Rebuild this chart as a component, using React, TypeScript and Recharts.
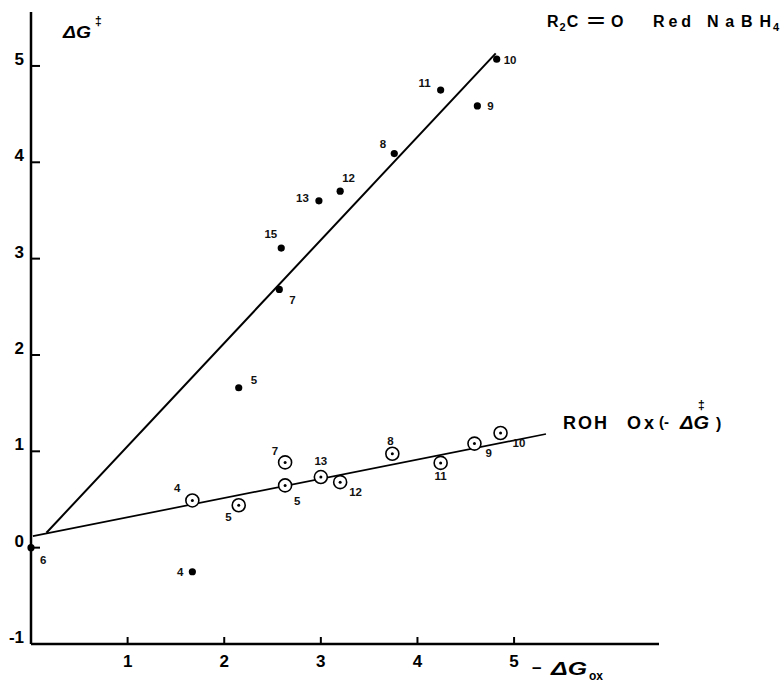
import {
  ComposedChart,
  Scatter,
  XAxis,
  YAxis,
} from "recharts";

// NaBH4 reduction of ketones (filled dots)
const redIds = ["6", "4", "5", "7", "15", "13", "12", "8", "11", "9", "10"];
const redX = [0, 1.67, 2.15, 2.57, 2.59, 2.98, 3.2, 3.76, 4.24, 4.62, 4.82];
const redY = [0, -0.25, 1.66, 2.68, 3.11, 3.6, 3.7, 4.09, 4.75, 4.585, 5.07];

// alcohol oxidation (open circles)
const oxIds = ["4", "5", "7", "5", "13", "12", "8", "11", "9", "10"];
const oxX = [1.67, 2.15, 2.63, 2.63, 3.0, 3.2, 3.74, 4.24, 4.59, 4.86];
const oxY = [0.49, 0.44, 0.885, 0.646, 0.733, 0.68, 0.975, 0.88, 1.08, 1.19];

// fitted lines, end points
const redFitX = [0.16, 4.81];
const redFitY = [0.155, 5.13];
const oxFitX = [0.02, 5.33];
const oxFitY = [0.12, 1.18];

const xTicks = [1, 2, 3, 4, 5];
const yTicks = [-1, 0, 1, 2, 3, 4, 5];

// label placement next to each point: [dx, dy, anchor]
const redLabelPos: [number, number, string][] = [
  [9, 16, "start"],
  [-9, 4, "end"],
  [12, -4, "start"],
  [10, 15, "start"],
  [-4, -10, "end"],
  [-10, 1, "end"],
  [2, -9, "start"],
  [-8, -6, "end"],
  [-10, -3, "end"],
  [10, 4, "start"],
  [7, 5, "start"],
];
const oxLabelPos: [number, number, string][] = [
  [-12, -8, "end"],
  [-7, 16, "end"],
  [-7, -7, "end"],
  [9, 20, "start"],
  [0, -12, "middle"],
  [9, 14, "start"],
  [-2, -9, "middle"],
  [0, 17, "middle"],
  [11, 13, "start"],
  [12, 14, "start"],
];

const FONT = "'Liberation Sans', Arial, sans-serif";

const redData = redX.map((x, i) => ({ x, y: redY[i], id: redIds[i], i }));
const oxData = oxX.map((x, i) => ({ x, y: oxY[i], id: oxIds[i], i }));
const redFit = redFitX.map((x, i) => ({ x, y: redFitY[i] }));
const oxFit = oxFitX.map((x, i) => ({ x, y: oxFitY[i] }));

const PointLabel = ({ cx, cy, pos, text }: any) => (
  <text
    x={cx + pos[0]}
    y={cy + pos[1]}
    textAnchor={pos[2]}
    fontSize={11.5}
    fontWeight="bold"
    fontFamily={FONT}
    fill="#111"
  >
    {text}
  </text>
);

const FilledDot = (props: any) => {
  const { cx, cy, payload } = props;
  return (
    <g>
      <circle cx={cx} cy={cy} r={3.6} fill="#000" />
      <PointLabel cx={cx} cy={cy} pos={redLabelPos[payload.i]} text={payload.id} />
    </g>
  );
};

const OpenDot = (props: any) => {
  const { cx, cy, payload } = props;
  return (
    <g>
      <circle cx={cx} cy={cy} r={6.5} fill="#fff" stroke="#000" strokeWidth={1.6} />
      <circle cx={cx} cy={cy} r={1.5} fill="#000" />
      <PointLabel cx={cx} cy={cy} pos={oxLabelPos[payload.i]} text={payload.id} />
    </g>
  );
};

const YTick = ({ x, y, payload }: any) => (
  <g>
    {payload.value !== -1 && (
      <line x1={x} x2={x + 9} y1={y} y2={y} stroke="#000" strokeWidth={2} />
    )}
    <text
      x={x - 7}
      y={y - 1}
      textAnchor="end"
      fontSize={17}
      fontWeight="bold"
      fontFamily={FONT}
      fill="#000"
    >
      {payload.value}
    </text>
  </g>
);

const XTick = ({ x, y, payload }: any) => (
  <g>
    <line x1={x} x2={x} y1={y} y2={y - 7} stroke="#000" strokeWidth={2} />
    <text
      x={x}
      y={y + 23}
      textAnchor="middle"
      fontSize={17}
      fontWeight="bold"
      fontFamily={FONT}
      fill="#000"
    >
      {payload.value}
    </text>
  </g>
);

const noShape = () => <g />;

export default function App() {
  return (
    <div
      style={{
        position: "absolute",
        left: 0,
        top: 0,
        width: 781,
        height: 684,
        background: "#fff",
      }}
    >
      <ComposedChart
        width={781}
        height={684}
        margin={{ top: 12, right: 122, left: 0, bottom: 0 }}
      >
        <XAxis
          type="number"
          dataKey="x"
          domain={[0, 6.5]}
          ticks={xTicks}
          height={40}
          tickSize={0}
          tickMargin={0}
          tick={<XTick />}
          axisLine={{ stroke: "#000", strokeWidth: 2.5 }}
        />
        <YAxis
          type="number"
          dataKey="y"
          domain={[-1, 5.56]}
          ticks={yTicks}
          width={31}
          tickSize={0}
          tickMargin={0}
          tick={<YTick />}
          axisLine={{ stroke: "#000", strokeWidth: 2.5 }}
        />
        <Scatter
          data={redFit}
          line={{ stroke: "#000", strokeWidth: 2 }}
          shape={noShape}
          isAnimationActive={false}
          legendType="none"
        />
        <Scatter
          data={oxFit}
          line={{ stroke: "#000", strokeWidth: 1.7 }}
          shape={noShape}
          isAnimationActive={false}
          legendType="none"
        />
        <Scatter data={oxData} shape={<OpenDot />} isAnimationActive={false} />
        <Scatter data={redData} shape={<FilledDot />} isAnimationActive={false} />
      </ComposedChart>
      <svg
        width={781}
        height={684}
        style={{ position: "absolute", left: 0, top: 0, pointerEvents: "none" }}
        fontFamily={FONT}
        fontWeight="bold"
      >
        {/* y axis title */}
        <text x={63} y={38} fontSize={17} fontStyle="italic" textLength={28} lengthAdjust="spacingAndGlyphs">
          ΔG
        </text>
        <text x={95} y={25} fontSize={12}>
          ‡
        </text>

        {/* series title, upper line */}
        <text x={547} y={27} fontSize={16}>
          R<tspan fontSize={11} dy={4} dx={1}>2</tspan>
          <tspan dy={-4} dx={1}>C</tspan>
        </text>
        <text x={587} y={27} fontSize={18} textLength={18} lengthAdjust="spacingAndGlyphs">
          =
        </text>
        <text x={611} y={27} fontSize={16}>
          O
        </text>
        <text x={653} y={27} fontSize={16} textLength={38} lengthAdjust="spacing">
          Red
        </text>
        <text x={707} y={27} fontSize={16} textLength={64} lengthAdjust="spacing">
          NaBH
        </text>
        <text x={773} y={31} fontSize={11}>
          4
        </text>

        {/* series title, lower line */}
        <text x={563} y={429} fontSize={18} textLength={44} lengthAdjust="spacing">
          ROH
        </text>
        <text x={627} y={429} fontSize={18} textLength={27} lengthAdjust="spacing">
          Ox
        </text>
        <text x={659} y={427} fontSize={15}>
          (-
        </text>
        <text x={680} y={429} fontSize={18} fontStyle="italic" textLength={29} lengthAdjust="spacingAndGlyphs">
          ΔG
        </text>
        <text x={698} y={409} fontSize={12}>
          ‡
        </text>
        <text x={716} y={429} fontSize={16}>
          )
        </text>

        {/* x axis title */}
        <text x={532} y={673} fontSize={17}>
          –
        </text>
        <text x={551} y={675} fontSize={18} fontStyle="italic" textLength={36} lengthAdjust="spacingAndGlyphs">
          ΔG
        </text>
        <text x={589} y={680} fontSize={12}>
          ox
        </text>
      </svg>
    </div>
  );
}
